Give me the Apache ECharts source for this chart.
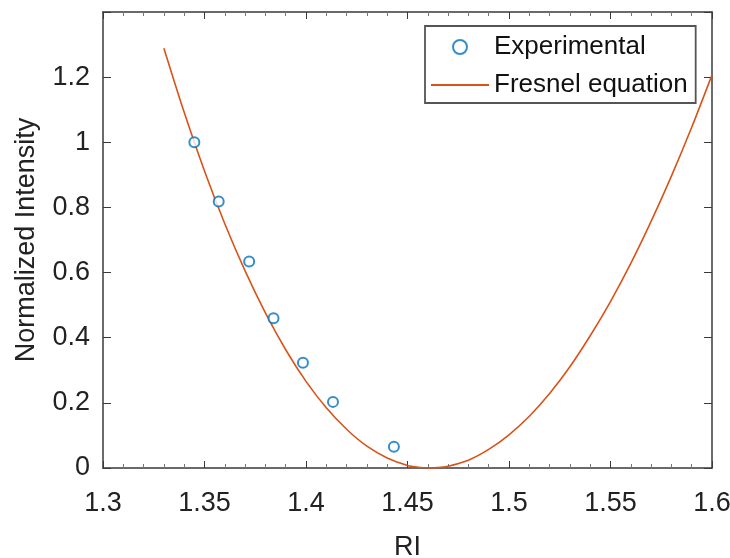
<!DOCTYPE html>
<html><head><meta charset="utf-8">
<script src="https://cdn.jsdelivr.net/npm/echarts@6/dist/echarts.min.js"></script>
<style>html,body{margin:0;padding:0;background:#fff}#c{width:730px;height:558px}</style>
</head><body><div id="c"></div>
<script>
// Experimental points (RI, normalized intensity)
const expRI = [1.345, 1.357, 1.372, 1.384, 1.3985, 1.4133, 1.4433];
const expI  = [1.0, 0.818, 0.634, 0.46, 0.323, 0.203, 0.065];
// Fresnel equation curve
const fitRI = [1.33, 1.34, 1.35, 1.36, 1.37, 1.38, 1.39, 1.40, 1.41, 1.42, 1.43, 1.44, 1.45, 1.455, 1.46, 1.465, 1.47, 1.48, 1.49, 1.50, 1.51, 1.52, 1.53, 1.54, 1.55, 1.56, 1.57, 1.58, 1.59, 1.60];
const fitI  = [1.289, 1.092, 0.912, 0.750, 0.605, 0.476, 0.363, 0.266, 0.185, 0.119, 0.067, 0.031, 0.008, 0.0025, 0.0001, 0.0011, 0.0055, 0.024, 0.057, 0.102, 0.159, 0.229, 0.311, 0.406, 0.511, 0.628, 0.757, 0.896, 1.046, 1.207];
const seriesNames = ['Experimental', 'Fresnel equation'];
const xLabel = 'RI', yLabel = 'Normalized Intensity';

const FONT = 'Liberation Sans, Arial, sans-serif';
const axisCol = '#3a3a3a';
const chart = echarts.init(document.getElementById('c'), null, {renderer: 'canvas'});
const xCommon = {
  type: 'value', min: 1.3, max: 1.6, interval: 0.05,
  axisLine: {show: true, onZero: false, lineStyle: {color: axisCol, width: 1.5}},
  axisTick: {show: true, inside: true, length: 7, lineStyle: {color: axisCol, width: 1}},
  minorTick: {show: true, splitNumber: 5, length: 4, lineStyle: {color: '#777', width: 1}},
  splitLine: {show: false}, minorSplitLine: {show: false}
};
const yCommon = {
  type: 'value', min: 0, max: 1.4, interval: 0.2,
  axisLine: {show: true, onZero: false, lineStyle: {color: axisCol, width: 1.5}},
  axisTick: {show: true, inside: true, length: 8, lineStyle: {color: axisCol, width: 1}},
  splitLine: {show: false}
};
chart.setOption({
  animation: false,
  backgroundColor: '#fff',
  grid: {left: 103, right: 18, top: 12, bottom: 90, containLabel: false, outerBoundsMode: 'none'},
  legend: {
    orient: 'vertical', left: 425, top: 26, width: 273,
    padding: [6, 8, 3, 5], itemGap: 8, itemWidth: 58, itemHeight: 14,
    borderColor: '#555', borderWidth: 1.8, backgroundColor: '#fff',
    textStyle: {fontFamily: FONT, fontSize: 26, color: '#111', lineHeight: 30},
    data: [
      {name: seriesNames[0], icon: 'emptyCircle'},
      {name: seriesNames[1],
       itemStyle: {color: 'rgba(0,0,0,0)', borderColor: 'rgba(0,0,0,0)', borderWidth: 0},
       lineStyle: {color: '#D95319', width: 2}}
    ]
  },
  xAxis: [
    Object.assign({}, xCommon, {
      position: 'bottom', name: xLabel, nameLocation: 'middle', nameGap: 66,
      nameTextStyle: {fontFamily: FONT, fontSize: 27, color: '#222'},
      axisLabel: {show: true, margin: 22, fontFamily: FONT, fontSize: 27, color: '#222'}
    }),
    Object.assign({}, xCommon, {position: 'top', axisLabel: {show: false}})
  ],
  yAxis: [
    Object.assign({}, yCommon, {
      position: 'left', name: yLabel, nameLocation: 'middle', nameGap: 63,
      nameTextStyle: {fontFamily: FONT, fontSize: 27, color: '#222'},
      axisLabel: {show: true, margin: 13, fontFamily: FONT, fontSize: 27, color: '#222',
        formatter: v => (Math.abs(v - 1.4) < 1e-9 ? '' : String(+v.toFixed(2)))}
    }),
    Object.assign({}, yCommon, {position: 'right', axisLabel: {show: false}})
  ],
  series: [
    {
      name: seriesNames[1], type: 'line', xAxisIndex: 0, yAxisIndex: 0,
      data: fitRI.map((x, i) => [x, fitI[i]]),
      showSymbol: false, symbol: 'none', smooth: 0.3,
      lineStyle: {color: '#D95319', width: 1.6}, itemStyle: {color: '#D95319'}, z: 2
    },
    {
      name: seriesNames[0], type: 'scatter', xAxisIndex: 0, yAxisIndex: 0,
      data: expRI.map((x, i) => [x, expI[i]]),
      symbol: 'emptyCircle', symbolSize: 10,
      itemStyle: {color: '#0072BD', borderColor: '#0072BD', borderWidth: 2.2}, z: 3
    }
  ]
});
</script></body></html>
